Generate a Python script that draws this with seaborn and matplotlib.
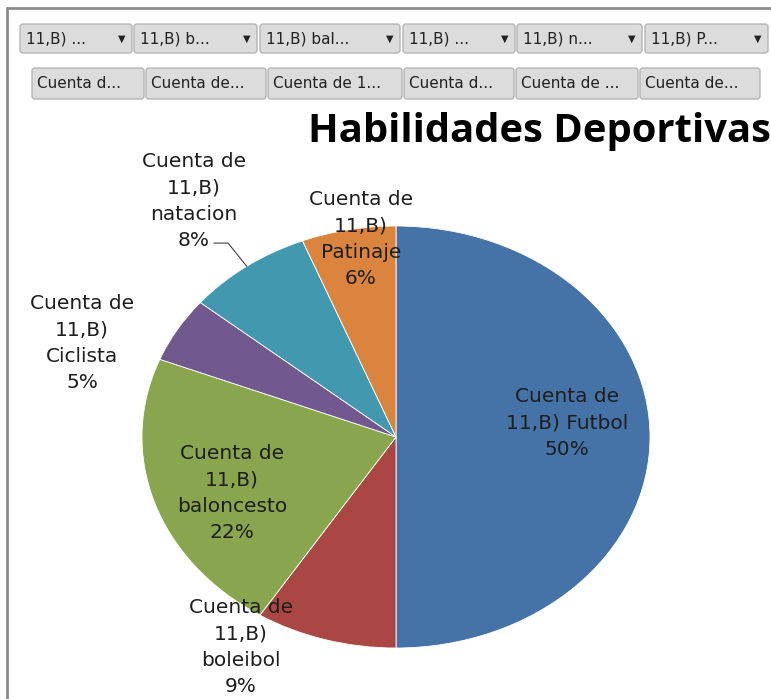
import matplotlib
matplotlib.use("Agg")
import matplotlib.pyplot as plt
import seaborn as sns
import numpy as np
from matplotlib.patches import FancyBboxPatch

# data
deportes = ["Futbol", "boleibol", "baloncesto", "Ciclista", "natacion", "Patinaje"]
porcentajes = [50, 9, 22, 5, 8, 6]
colores = ["#4572A7", "#AA4643", "#89A54E", "#71588F", "#4198AF", "#DB843D"]
filtros = ["11,B) ...", "11,B) b...", "11,B) bal...", "11,B) ...", "11,B) n...", "11,B) P..."]
valores_btn = ["Cuenta d...", "Cuenta de...", "Cuenta de 1...", "Cuenta d...", "Cuenta de ...", "Cuenta de..."]
titulo = "Habilidades Deportivas"

W, H = 771, 699
sns.set_theme(style="white")
plt.rcParams["font.family"] = ["DejaVu Sans"]

fig = plt.figure(figsize=(W / 100, H / 100), dpi=100)
fig.patch.set_facecolor("white")


def fx(x):
    return x / W


def fy(y):
    return (H - y) / H


# marco gris
fig.add_artist(plt.Line2D([fx(7), fx(7)], [fy(8), 0], color="#8c8c8c", lw=2))
fig.add_artist(plt.Line2D([fx(7), 1], [fy(8), fy(8)], color="#8c8c8c", lw=2))

# botones de filtro
fila1 = [(20, 132), (134, 257), (260, 400), (403, 515), (517, 642), (645, 768)]
fila2 = [(32, 144), (146, 266), (268, 402), (404, 514), (516, 638), (640, 760)]
for (x0, x1), txt in zip(fila1, filtros):
    fig.add_artist(FancyBboxPatch((fx(x0), fy(53)), fx(x1 - x0), (53 - 24) / H,
                                  boxstyle="round,pad=0,rounding_size=0.004",
                                  fc="#dcdcdc", ec="#b5b5b5", lw=1))
    fig.text(fx(x0 + 6), fy(39), txt, fontsize=11, va="center", ha="left", color="#222222")
    fig.text(fx(x1 - 10), fy(39), "\u25bc", fontsize=7, va="center", ha="center", color="#222222")
for (x0, x1), txt in zip(fila2, valores_btn):
    fig.add_artist(FancyBboxPatch((fx(x0), fy(99)), fx(x1 - x0), (99 - 68) / H,
                                  boxstyle="round,pad=0,rounding_size=0.004",
                                  fc="#dcdcdc", ec="#b5b5b5", lw=1))
    fig.text(fx(x0 + 5), fy(84), txt, fontsize=11, va="center", ha="left", color="#222222")

# titulo, ajustado al ancho (308 -> 770 px)
t = fig.text(fx(308), fy(142), titulo, fontsize=28, fontweight="bold",
             family=["Open Sans", "DejaVu Sans"], ha="left", va="baseline", color="black")
fig.canvas.draw()
ancho = t.get_window_extent().width
t.set_fontsize(28 * 462 / ancho)

# pastel (eliptico)
ax = fig.add_axes([fx(142), fy(648), fx(650 - 142), (648 - 226) / H])
wedges, _ = ax.pie(porcentajes, colors=sns.color_palette(colores), startangle=90,
                   counterclock=False, radius=1,
                   wedgeprops=dict(edgecolor="white", linewidth=0.6))
ax.set_xlim(-1, 1)
ax.set_ylim(-1, 1)
ax.set_aspect("auto")
ax.axis("off")

etiquetas = [
    "Cuenta de\n11,B) Futbol\n50%",
    "Cuenta de\n11,B)\nboleibol\n9%",
    "Cuenta de\n11,B)\nbaloncesto\n22%",
    "Cuenta de\n11,B)\nCiclista\n5%",
    "Cuenta de\n11,B)\nnatacion\n8%",
    "Cuenta de\n11,B)\nPatinaje\n6%",
]
pos_etq = [(0.673, 0.066), (-0.610, -0.995), (-0.646, -0.265),
           (-1.236, 0.445), (-0.795, 1.118), (-0.138, 0.938)]
for txt, (x, y) in zip(etiquetas, pos_etq):
    ax.text(x, y, txt, ha="center", va="center", fontsize=14.5, linespacing=1.5,
            color="#1e1e1e", clip_on=False)

# linea guia de natacion
w = wedges[4]
ang = np.deg2rad((w.theta1 + w.theta2) / 2)
ax.plot([-0.717, -0.661, np.cos(ang)], [0.919, 0.919, np.sin(ang)],
        color="#404040", lw=0.8, clip_on=False)

fig.savefig("out.png", dpi=100)
